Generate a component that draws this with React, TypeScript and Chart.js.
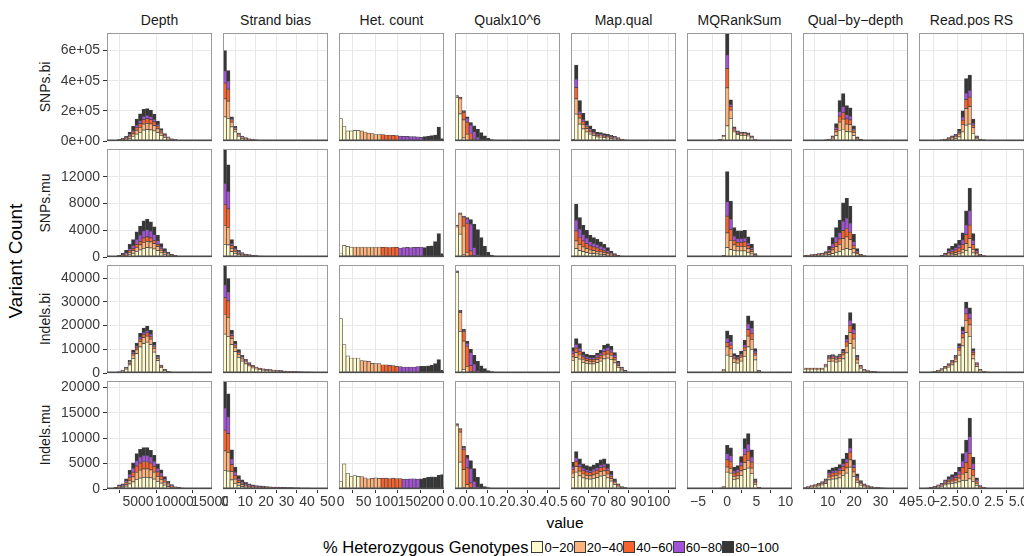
import { useEffect, useRef } from "react";
import { Chart, registerables } from "chart.js";

Chart.register(...registerables);

const FONT = '"Liberation Sans", Arial, Helvetica, sans-serif';

const COLUMNS = ["Depth", "Strand bias", "Het. count", "Qualx10^6", "Map.qual", "MQRankSum", "Qual\u2212by\u2212depth", "Read.pos RS"];
const ROWS = ["SNPs.bi", "SNPs.mu", "Indels.bi", "Indels.mu"];
const GENO_LABELS = ["0\u221220", "20\u221240", "40\u221260", "60\u221280", "80\u2212100"];
const GENO_COLORS = ["#FFFACD", "#FDB47C", "#F8622C", "#A352D6", "#363636"];
const LEGEND_TITLE = "% Heterozygous Genotypes";
const X_TITLE = "value";
const Y_TITLE = "Variant Count";

// histogram bins per column: 30 bins of width BIN_WIDTH centred at k*BIN_WIDTH, k from BIN_FIRST
const N_BINS = 30;
const BIN_WIDTH = [482, 1.7, 7.65, 0.01727, 1.739, 0.6, 1.325, 0.36];
const BIN_FIRST = [2, 0, 0, 0, 33, -11, 1, -14];

const X_TICKS = [
  [5000, 10000, 15000],
  [0, 10, 20, 30, 40, 50],
  [0, 50, 100, 150, 200],
  [0, 0.1, 0.2, 0.3, 0.4, 0.5],
  [60, 70, 80, 90, 100],
  [-5, 0, 5, 10],
  [10, 20, 30, 40],
  [-5, -2.5, 0, 2.5, 5],
];
const X_TICK_LABELS = [
  ["5000", "10000", "15000"],
  ["0", "10", "20", "30", "40", "50"],
  ["0", "50", "100", "150", "200"],
  ["0.0", "0.1", "0.2", "0.3", "0.4", "0.5"],
  ["60", "70", "80", "90", "100"],
  ["\u22125", "0", "5", "10"],
  ["10", "20", "30", "40"],
  ["\u22125.0", "\u22122.5", "0.0", "2.5", "5.0"],
];
const Y_TICKS = [
  [0, 200000, 400000, 600000],
  [0, 4000, 8000, 12000],
  [0, 10000, 20000, 30000, 40000],
  [0, 5000, 10000, 15000, 20000],
];
const Y_TICK_LABELS = [
  ["0e+00", "2e+05", "4e+05", "6e+05"],
  ["0", "4000", "8000", "12000"],
  ["0", "10000", "20000", "30000", "40000"],
  ["0", "5000", "10000", "15000", "20000"],
];
const Y_MAX = [717000, 16130, 45600, 21240];
// values below are written in thousands (row 1) or hundreds (rows 2-4)
const ROW_UNIT = [1000, 100, 100, 100];

const pad = (n: number, vals: number[]) => [...new Array(n).fill(0), ...vals];

// ---------- SNPs.bi (thousands) ----------
const SB_DEPTH = [
  [0.1, 0.3, 0.8, 4, 6, 10, 18, 30, 45, 58, 72, 76, 74, 68, 55, 37, 23, 13, 7, 4, 2, 1.2, 0.8, 0.6, 0.4, 0.4, 0.3, 0.2, 0.2, 0.1],
  [0.05, 0.1, 0.3, 1.5, 3, 5, 10, 17, 26, 33, 40, 41, 39, 34, 26, 16, 9, 5, 3, 1.7, 1, 0.6, 0.4, 0.3, 0.2, 0.2, 0.1, 0.1, 0.1, 0.1],
  [0.05, 0.1, 0.2, 1, 2, 4, 8, 13, 19, 24, 30, 31, 29, 25, 18, 10, 6, 3, 1.5, 1, 0.6, 0.3, 0.2, 0.2, 0.1, 0.1, 0.1, 0.1],
  [0, 0.1, 0.2, 1, 2, 3, 7, 11, 16, 20, 22, 22, 20, 17, 12, 7, 4, 2, 1, 0.7, 0.4, 0.3, 0.2, 0.1, 0.1, 0.1, 0.1],
  [0.1, 0.1, 0.5, 2.5, 4, 9, 17, 27, 39, 45, 47, 45, 43, 34, 22, 12, 7, 4, 2.5, 1.6, 1, 0.6, 0.4, 0.3, 0.2, 0.2, 0.1, 0.1, 0.1, 0.1],
];
const SB_STRAND = [
  [160, 150, 93, 60, 30, 18, 12, 8, 5, 3.5, 2.5, 2, 1.5, 1.2, 1, 0.8, 0.7, 0.6, 0.5, 0.5, 0.4, 0.4, 0.3, 0.3, 0.3, 0.2, 0.2, 0.2, 0.2, 0.2],
  [120, 115, 33, 15, 8, 5, 3, 2, 1.5, 1, 0.7, 0.6, 0.5, 0.4, 0.3, 0.2, 0.2, 0.2, 0.1, 0.1, 0.1, 0.1, 0.1, 0.1],
  [105, 80, 15, 8, 5, 3, 2, 1.5, 1, 0.7, 0.5, 0.4, 0.3, 0.3, 0.2, 0.1, 0.1, 0.1, 0.1, 0.1],
  [80, 50, 7, 5, 3, 2, 1, 1, 0.7, 0.5, 0.3, 0.3, 0.2, 0.2, 0.1, 0.1, 0.1, 0.1],
  [135, 72, 12, 10, 7, 5, 4, 2.5, 1.8, 1.3, 1, 0.7, 0.5, 0.4, 0.4, 0.4, 0.3, 0.3, 0.3, 0.2, 0.2, 0.2, 0.2, 0.1, 0.1, 0.1, 0.1, 0.1, 0.1, 0.1],
];
const SB_HET = [
  [149, 98, 67, 67, 71, 71],
  pad(6, [67, 60, 53, 49, 42, 42]),
  pad(12, [42, 40, 40, 38, 36]),
  pad(17, [33, 31, 31, 29, 29, 27, 24]),
  pad(24, [29, 31, 36, 40, 93, 16]),
];
const SB_QUAL = [
  [290, 180, 20, 5, 2],
  [8, 100, 120, 40, 8, 2],
  [0, 5, 50, 80, 40, 10, 3, 1],
  [0, 1, 4, 25, 55, 50, 20, 8, 3, 1],
  [4, 5, 8, 11, 18, 39, 55, 47, 31, 17, 9, 4, 2, 1, 0.5, 0.5, 0.3, 0.3, 0.2, 0.2],
];
const SB_MAPQ = [
  [4, 179, 112, 80, 60, 45, 35, 27, 25, 22, 20, 17, 14, 10, 6, 3, 1.8, 0.9, 0.5],
  [2, 101, 40, 30, 22, 16, 12, 9, 8, 7, 6, 5, 4, 3, 2, 1, 0.5, 0.3, 0.1],
  [1, 74, 27, 20, 14, 11, 8, 6, 6, 5, 5, 4, 3, 2, 1, 0.6, 0.4, 0.2, 0.1],
  [1, 56, 18, 14, 10, 8, 6, 5, 4, 4, 3, 3, 2, 1.5, 1, 0.4, 0.3, 0.1, 0.1],
  [2, 94, 72, 40, 28, 21, 17, 13, 13, 11, 11, 9, 8, 5.5, 3, 2, 1, 0.5, 0.2],
];
const SB_MQRS = [
  [0.2, 0.2, 0.2, 0.2, 0.3, 0.3, 0.5, 0.8, 1.5, 7, 30, 100, 150, 60, 42, 38, 38, 34, 21, 5, 1, 0.6, 0.3, 0.2, 0.2, 0.1, 0.1, 0.1, 0.1, 0.1],
  pad(8, [0.1, 0.5, 3, 253, 55, 12, 9, 8, 8, 7, 4, 1, 0.3, 0.1]),
  pad(8, [0.1, 0.5, 1, 128, 25, 7, 5, 4, 4, 4, 3, 1, 0.2, 0.1]),
  pad(8, [0.1, 0.3, 1, 90, 13, 5, 3, 3, 3, 2, 1, 0.5, 0.1, 0.1]),
  pad(7, [0.1, 0.2, 0.7, 3, 146, 30, 10, 8, 7, 7, 7, 5, 1.5, 0.4, 0.1]),
];
const SB_QBD = [
  [1.8, 1.8, 1.8, 1.8, 2.4, 3, 4, 6, 11, 35, 70, 78, 62, 60, 35, 10, 4, 1, 0.6, 0.4, 0.3, 0.3, 0.2, 0.2, 0.2, 0.1, 0.1, 0.1, 0.1, 0.1],
  [0.4, 0.4, 0.4, 0.4, 0.5, 0.6, 1, 2, 7, 25, 55, 67, 50, 48, 22, 6, 2, 0.6, 0.3, 0.1],
  [0.2, 0.2, 0.2, 0.2, 0.3, 0.4, 0.6, 1, 5, 16, 40, 45, 35, 32, 13, 3, 1.5, 0.4, 0.2, 0.1],
  [0.1, 0.1, 0.1, 0.1, 0.2, 0.3, 0.4, 1, 3, 12, 30, 38, 28, 25, 9, 2, 1, 0.3, 0.1, 0.1],
  [0.5, 0.5, 0.5, 0.5, 0.6, 0.7, 1, 2, 8, 28, 74, 86, 60, 55, 22, 6, 2.5, 0.7, 0.3, 0.1, 0.2, 0.2, 0.1, 0.1, 0.1, 0.1, 0.1, 0.1, 0.1, 0.1],
];
const SB_READ = [
  [0.5, 0.5, 0.5, 0.7, 0.9, 1.3, 3, 6, 9, 13, 17, 28, 60, 105, 112, 50, 14, 6, 3, 1.3, 0.7, 0.5, 0.3, 0.2, 0.2, 0.2, 0.2, 0.2, 0.2, 0.2],
  [0.2, 0.2, 0.2, 0.3, 0.4, 0.6, 1.5, 3, 5, 8, 10, 18, 50, 110, 116, 38, 8, 3, 1.5, 0.6, 0.3, 0.2, 0.1, 0.1, 0.1, 0.1, 0.1, 0.1, 0.1, 0.1],
  [0.1, 0.1, 0.1, 0.2, 0.2, 0.3, 0.8, 1.5, 3, 4, 6, 10, 28, 60, 63, 18, 4, 1.5, 0.8, 0.3, 0.2, 0.1, 0.1],
  [0.1, 0.1, 0.1, 0.1, 0.2, 0.3, 0.6, 1, 2, 3, 4, 7, 20, 42, 45, 12, 3, 1, 0.6, 0.3, 0.1, 0.1, 0.1],
  [0.1, 0.1, 0.1, 0.2, 0.3, 0.5, 1.1, 1.5, 3, 6, 8, 15, 42, 97, 101, 28, 5, 1.5, 1.1, 0.5, 0.2, 0.1, 0.1, 0.1, 0.1, 0.1, 0.1, 0.1, 0.1, 0.1],
];

// ---------- SNPs.mu (hundreds) ----------
const SM_DEPTH = [
  [0.03, 0.1, 0.2, 0.5, 1.2, 2, 4, 5.5, 8.5, 10.5, 13, 14, 13.5, 12, 9.5, 6, 4, 2.5, 1.3, 0.8, 0.5, 0.3, 0.2, 0.2, 0.1, 0.1, 0.1, 0.1, 0.05, 0.05],
  [0, 0.03, 0.1, 0.3, 0.8, 1.4, 2.8, 4, 6, 7.5, 9, 9.5, 9, 8, 6, 4, 2.5, 1.5, 0.8, 0.5, 0.3, 0.1, 0.1, 0.05],
  [0, 0.02, 0.05, 0.25, 0.6, 1.1, 2.2, 3, 4.5, 5.5, 6.5, 6.5, 6, 5, 3.5, 2, 1.2, 0.7, 0.4, 0.25, 0.15, 0.1, 0.05],
  [0, 0.03, 0.1, 0.4, 1, 1.8, 3.5, 5, 7.5, 9, 10.5, 11, 10, 8.5, 5.5, 3, 1.8, 1, 0.5, 0.3, 0.2, 0.1, 0.05],
  [0.05, 0.15, 0.4, 1.05, 2.4, 3.7, 6.5, 8.5, 11, 13.5, 15, 15.5, 14, 11.5, 8, 5, 3, 1.8, 1, 0.65, 0.35, 0.4, 0.3, 0.2, 0.2, 0.1, 0.1, 0.1, 0.05, 0.05],
];
const SM_STRAND = [
  [19, 18, 8, 5.5, 3.5, 2.3, 1.6, 1.2, 0.9, 0.7, 0.5, 0.45, 0.4, 0.35, 0.3, 0.28, 0.28, 0.25, 0.25, 0.2, 0.2, 0.18, 0.18, 0.14, 0.14, 0.1, 0.1, 0.1, 0.07, 0.07],
  [28, 26, 5, 3, 1.8, 1.2, 0.8, 0.6, 0.45, 0.35, 0.3, 0.25, 0.2, 0.2, 0.18, 0.15, 0.15, 0.13, 0.13, 0.12, 0.12, 0.1, 0.1, 0.08, 0.08, 0.06, 0.06, 0.06, 0.04, 0.04],
  [31.5, 28, 4, 2.3, 1.4, 0.9, 0.6, 0.5, 0.35, 0.3, 0.2, 0.2, 0.15, 0.15, 0.13, 0.12, 0.12, 0.1, 0.1, 0.09, 0.09, 0.07, 0.07, 0.06, 0.06, 0.05, 0.05, 0.05, 0.03, 0.03],
  [31.5, 26, 3.5, 2, 1.3, 0.8, 0.55, 0.4, 0.3, 0.25, 0.2, 0.15, 0.15, 0.1, 0.1, 0.1, 0.1, 0.08, 0.08, 0.07, 0.07, 0.06, 0.06, 0.05, 0.05, 0.04, 0.04, 0.04, 0.03, 0.03],
  [51, 39.5, 5.5, 3.2, 2, 1.3, 0.95, 0.8, 0.5, 0.4, 0.3, 0.25, 0.2, 0.2, 0.19, 0.15, 0.15, 0.14, 0.14, 0.12, 0.12, 0.09, 0.09, 0.07, 0.07, 0.05, 0.05, 0.05, 0.03, 0.03],
];
const SM_HET = [
  [6, 17.5, 16, 14],
  pad(4, [15, 15, 14, 15, 14, 15, 14, 15]),
  pad(12, [14.5, 15, 14, 15, 14.5]),
  pad(17, [13.5, 14, 14.5, 14, 14.5, 14.5, 15]),
  pad(24, [14, 16, 16.5, 23, 35, 5]),
];
const SM_QUAL = [
  [45, 34, 3, 1, 0.5],
  [1.5, 30, 43, 6, 1.5, 0.5],
  [0, 1, 13, 43, 7, 1.5, 0.5],
  [0, 0, 1, 7, 40, 12, 2.5, 1, 0.5],
  [1, 1, 1, 2, 7, 35, 38, 28, 15.5, 7, 3, 1.5, 0.8, 0.5, 0.3, 0.2, 0.1],
];
const SM_MAPQ = [
  [0.2, 12.5, 9.5, 8, 6.5, 5.5, 5, 4.5, 4, 3.5, 2.5, 1.5, 0.8, 0.4, 0.2, 0.1, 0.05],
  [0.1, 11.5, 9, 7, 6, 5, 4.5, 4, 3.5, 3, 2, 1.3, 0.7, 0.3, 0.2, 0.1, 0.05],
  [0.2, 15, 11, 9, 7.5, 6, 5.5, 5, 4, 3.5, 2.5, 1.7, 0.9, 0.4, 0.2, 0.05],
  [0.2, 16, 12, 9.5, 8, 6.5, 5.5, 5, 4.5, 3.5, 2.5, 1.5, 0.8, 0.4, 0.2, 0.05],
  [0.3, 24, 17.5, 14, 12, 9.5, 8.5, 8, 6.5, 5.5, 4.5, 3, 1.8, 1, 0.7, 0.5, 0.3, 0.2, 0.1],
];
const SM_MQRS = [
  [0.1, 0.1, 0.1, 0.1, 0.1, 0.2, 0.2, 0.2, 0.3, 0.5, 1, 14, 11, 10, 9, 9, 9, 7, 4.5, 1.2, 0.4, 0.2, 0.1, 0.1],
  pad(9, [0.1, 0.4, 22, 14, 8, 7, 7, 7, 5.5, 3.5, 0.9, 0.3, 0.1]),
  pad(9, [0.1, 0.3, 25, 16, 7, 6, 6, 6.5, 4.5, 3, 0.8, 0.2]),
  pad(9, [0.1, 0.2, 21.5, 15, 6, 5.5, 5.5, 5.5, 4, 2.5, 0.6, 0.2]),
  pad(8, [0.2, 0.2, 0.6, 45, 27.5, 13, 11.5, 11.5, 12, 9, 5.5, 1.5, 0.4, 0.2, 0.1]),
];
const SM_QBD = [
  [1.2, 1.4, 1.6, 1.8, 2.2, 2.5, 3, 3.5, 5, 7, 8.5, 11.5, 12.5, 11, 6, 2.5, 0.8, 0.4, 0.2, 0.1, 0.1, 0.1, 0.05, 0.05, 0.05],
  [0.5, 0.6, 0.7, 0.8, 1, 1.2, 1.6, 3, 5.5, 8.5, 10.5, 16, 17.5, 15, 6.5, 2.5, 0.8, 0.4, 0.2, 0.1, 0.1],
  [0.2, 0.3, 0.3, 0.4, 0.5, 0.6, 0.9, 2, 4, 6.5, 8, 12, 12.5, 11, 5, 1.8, 0.6, 0.3, 0.1, 0.1],
  [0.2, 0.2, 0.3, 0.3, 0.4, 0.5, 0.8, 2.5, 5, 7.5, 9.5, 14, 15, 13, 5.5, 1.7, 0.5, 0.2, 0.1, 0.1],
  [0.4, 0.5, 0.6, 0.7, 0.9, 1.2, 1.7, 5, 9.5, 14.5, 18.5, 27.5, 30, 26, 11, 4, 1.3, 0.7, 0.4, 0.3, 0.2, 0.2, 0.15, 0.1, 0.1, 0.1, 0.1, 0.05, 0.05, 0.05],
];
const SM_READ = [
  [0.1, 0.1, 0.15, 0.2, 0.25, 0.3, 0.5, 1.2, 2.5, 3, 3.5, 4.5, 6, 10, 14, 6, 2.5, 0.8, 0.4, 0.2, 0.1, 0.1, 0.1, 0.05, 0.05],
  [0.05, 0.1, 0.1, 0.1, 0.15, 0.2, 0.4, 1, 2, 2.5, 3, 4, 5.5, 10, 13.5, 5.5, 2, 0.6, 0.3, 0.15, 0.1, 0.1, 0.05],
  [0.05, 0.05, 0.1, 0.1, 0.15, 0.15, 0.4, 1.1, 2.3, 3, 4, 5, 7, 13.5, 20, 7, 2.3, 0.7, 0.35, 0.15, 0.1, 0.05],
  [0.05, 0.05, 0.05, 0.1, 0.1, 0.15, 0.4, 1, 2.2, 2.8, 3.5, 4.5, 7, 14.5, 21.5, 6.5, 2.2, 0.7, 0.35, 0.2, 0.1, 0.05],
  [0.05, 0.1, 0.1, 0.1, 0.15, 0.2, 0.8, 1.7, 3.5, 4.7, 6, 7, 10.5, 21, 33.5, 10, 3.5, 1.2, 0.6, 0.3, 0.2, 0.15, 0.1, 0.1, 0.05, 0.05],
];

// ---------- Indels.bi (hundreds) ----------
const IB_DEPTH = [
  [0.3, 0.6, 1.3, 3, 7.5, 16, 34, 62, 82, 110, 124, 130, 120, 88, 52, 23, 10, 4.5, 2.5, 1.6, 1, 0.7, 0.5, 0.4, 0.3, 0.2, 0.15, 0.15, 0.1, 0.1],
  [0.05, 0.1, 0.3, 0.6, 1.6, 3.3, 7, 13, 16, 22, 25, 26, 23, 16, 9, 4, 1.8, 0.8, 0.5, 0.3, 0.2, 0.1, 0.1, 0.1],
  [0.05, 0.1, 0.1, 0.3, 0.8, 1.7, 3.5, 6.5, 8.5, 11, 13, 13, 12, 8, 4.5, 2, 0.9, 0.4, 0.25, 0.15, 0.1, 0.05, 0.05],
  [0, 0.05, 0.1, 0.3, 0.6, 1.3, 3, 5, 6.5, 9, 10, 10, 9, 6, 3.5, 1.5, 0.7, 0.3, 0.2, 0.1, 0.05, 0.05],
  [0.1, 0.15, 0.2, 0.8, 1.5, 2.7, 5.5, 10.5, 13, 16, 18, 19, 17, 12, 6, 2.5, 1.6, 1, 0.55, 0.35, 0.15, 0.1, 0.1, 0.1, 0.1, 0.1, 0.05, 0.05],
];
const IB_STRAND = [
  [164, 155, 120, 90, 66, 50, 39, 30, 22, 17, 14, 12, 10.4, 9.4, 8.4, 7.4, 6.7, 5.7, 4.7, 4.7, 3.7, 3.4, 3, 2.7, 2.7, 2.4, 2, 2, 1.7, 1.7],
  [83, 80, 25, 18, 13, 10, 7.5, 5.5, 4, 3.2, 2.7, 2.3, 2, 1.8, 1.6, 1.4, 1.3, 1.1, 0.9, 0.9, 0.7, 0.6, 0.6, 0.5, 0.5, 0.45, 0.4, 0.4, 0.3, 0.3],
  [71, 70, 13, 10, 7, 5.5, 4, 3, 2.3, 1.7, 1.5, 1.3, 1.1, 1, 0.9, 0.8, 0.7, 0.6, 0.5, 0.5, 0.4, 0.35, 0.3, 0.3, 0.3, 0.25, 0.2, 0.2, 0.2, 0.2],
  [54, 35, 8, 6, 4.5, 3.5, 2.7, 2, 1.5, 1.2, 1, 0.9, 0.8, 0.7, 0.6, 0.6, 0.5, 0.4, 0.35, 0.35, 0.3, 0.25, 0.2, 0.2, 0.2, 0.15, 0.15, 0.15, 0.1, 0.1],
  [80, 59, 14, 10, 8.5, 6, 4.8, 3.5, 2.7, 1.9, 1.8, 1.5, 1.2, 1.1, 1, 0.8, 0.8, 0.7, 0.55, 0.55, 0.4, 0.4, 0.4, 0.3, 0.3, 0.25, 0.25, 0.25, 0.2, 0.2],
];
const IB_HET = [
  [230, 120, 72, 63.5, 63.5, 63.5],
  pad(6, [52, 51, 49.5, 41, 39.5, 39.5]),
  pad(12, [35, 35, 32.5, 31, 28]),
  pad(17, [27, 25.5, 25.5, 25.5, 25.5, 27]),
  pad(23, [28, 28, 30, 32.5, 39.5, 56.5, 11]),
];
const IB_QUAL = [
  [425, 176, 15, 3, 1],
  [3, 79, 120, 25, 5, 1.5, 0.5],
  [0, 5, 40, 85, 25, 6, 1.5, 0.5],
  [0, 1, 3, 12, 55, 30, 8, 2.5, 1],
  [3.5, 4, 7, 9, 14, 37.5, 39.5, 27, 17.5, 10, 5.5, 4, 3, 2, 1.5, 1.5, 1, 1, 1, 0.8, 0.6, 0.5, 0.4, 0.3, 0.3, 0.2, 0.2, 0.2, 0.1, 0.1],
];
const IB_MAPQ = [
  [53, 65, 59, 45, 41, 39, 39, 44, 50, 60, 63, 58, 43, 24, 12, 5, 1.5, 0.8, 0.5, 0.4, 0.3, 0.2, 0.2, 0.1],
  [15, 21, 17, 12, 11, 10, 10, 12, 13, 16, 17, 16, 12, 7, 3.5, 1.5, 0.5, 0.3, 0.2, 0.1, 0.1],
  [13, 19, 15, 11, 9, 9, 9, 10, 11.5, 14, 15, 14, 11, 6.5, 3.5, 1.5, 0.5, 0.3, 0.2, 0.1, 0.1],
  [11, 16, 13, 9, 8, 7, 7, 8, 9.5, 12, 12, 11, 9, 5, 2.5, 1, 0.5, 0.2, 0.1, 0.1],
  [15, 24, 20, 12, 10, 10, 10, 10.5, 12, 15, 16, 15, 11, 7, 4, 2, 1, 0.4, 0.3, 0.2, 0.2, 0.2, 0.1, 0.1, 0.1],
];
const IB_MQRS = [
  [0.2, 0.2, 0.2, 0.2, 0.2, 0.3, 0.3, 0.3, 0.3, 0.3, 9, 75, 70, 45, 42, 50, 70, 110, 100, 55, 6, 2, 0.6, 0.3, 0.2, 0.2, 0.1, 0.1, 0.1, 0.1],
  pad(9, [0.05, 2, 35, 32, 15, 13, 17, 26, 46, 42, 19, 2, 0.4, 0.1, 0.1]),
  pad(9, [0.05, 1, 18.5, 16, 7, 6.5, 8, 13, 27, 25, 10, 1, 0.2, 0.1]),
  pad(9, [0.05, 0.7, 17, 14, 5, 4.5, 6, 10, 23, 21, 8, 0.8, 0.1, 0.1]),
  pad(9, [0.05, 1.3, 32.5, 27, 10, 9, 12, 19, 35, 32, 11, 1.2, 0.3, 0.1, 0.1, 0.1]),
];
const IB_QBD = [
  [16, 16, 16, 16, 16, 16, 26, 49, 50, 46, 50, 60, 85, 124, 105, 42, 19, 9, 6, 4, 3.3, 2.4, 1.8, 1.5, 1.2, 0.9, 0.9, 0.6, 0.6, 0.5],
  [2.5, 2.5, 2.5, 2.5, 2.5, 2.5, 5.5, 11, 12, 11, 12, 16, 28, 46.5, 38, 13, 5.5, 2.5, 1.5, 1, 0.8, 0.6, 0.5, 0.4, 0.3, 0.2, 0.2, 0.1, 0.1, 0.1],
  [1, 1, 1, 1, 1, 1, 3, 6, 6.5, 6, 7, 10, 18, 31, 24, 8, 3, 1.5, 1, 0.7, 0.5, 0.4, 0.3, 0.2, 0.2, 0.1, 0.1, 0.1, 0.1, 0.1],
  [0.5, 0.5, 0.5, 0.5, 0.5, 0.5, 1.5, 4, 4.5, 4, 5, 6, 12, 21, 17, 5, 2, 1, 0.5, 0.5, 0.4, 0.3, 0.2, 0.2, 0.1, 0.1, 0.1, 0.1, 0.1, 0],
  [1, 1, 1, 1, 1, 1, 2, 5, 5, 5, 6, 8, 16, 32.5, 25, 7, 3, 1.5, 1, 0.8, 0.5, 0.3, 0.2, 0.2, 0.2, 0.2, 0.2, 0.1, 0.1, 0.1],
];
const IB_READ = [
  [0.3, 0.5, 1, 2.5, 4.5, 7, 12, 18, 25, 34, 47, 75, 115, 170, 155, 60, 27, 9.5, 4.3, 2.5, 1.3, 1, 0.6, 0.4, 0.3, 0.2, 0.2, 0.1, 0.1, 0.1],
  [0.1, 0.1, 0.2, 0.6, 1.1, 1.8, 3, 4.5, 6.5, 8.5, 12, 20, 33, 52, 48, 17, 7, 2.5, 1.1, 0.6, 0.3, 0.2, 0.2, 0.1],
  [0.05, 0.1, 0.1, 0.3, 0.6, 0.9, 1.5, 2.2, 3.2, 4.5, 6, 11, 17, 28, 26, 10, 4, 1.3, 0.6, 0.4, 0.2, 0.1, 0.1],
  [0.05, 0.05, 0.1, 0.3, 0.4, 0.6, 1, 1.5, 2.2, 3, 4.5, 8, 14, 24, 22, 7, 2.5, 1, 0.4, 0.2, 0.1, 0.1],
  [0.05, 0.05, 0.1, 0.3, 0.4, 0.7, 1, 1.8, 2.6, 3.5, 5.5, 10, 16, 25.5, 24, 9, 3.5, 1.2, 0.6, 0.3, 0.1, 0.1, 0.1, 0.1, 0.1],
];

// ---------- Indels.mu (hundreds) ----------
const IM_DEPTH = [
  [0.2, 0.4, 0.9, 2.2, 2.7, 5.5, 10, 14, 19, 21.5, 23, 23, 22, 19.5, 15, 11.5, 7.8, 4.8, 2.8, 1.5, 1.1, 0.7, 0.5, 0.4, 0.3, 0.3, 0.2, 0.2, 0.1, 0.1],
  [0.05, 0.2, 0.6, 1.5, 1.9, 3.8, 7, 10, 13.5, 15.5, 16.5, 16.5, 15.5, 13.5, 10, 7.5, 5, 3, 1.7, 0.9, 0.7, 0.4, 0.3, 0.3, 0.2, 0.1, 0.1, 0.1, 0.1],
  [0.05, 0.2, 0.6, 1.3, 1.7, 3.5, 6.5, 9, 12.5, 14, 14.5, 14.5, 13.5, 11.5, 8.5, 6.5, 4, 2.5, 1.4, 0.7, 0.5, 0.3, 0.2, 0.2, 0.1, 0.1, 0.1, 0.1],
  [0, 0.2, 0.5, 1.1, 1.5, 3, 5.5, 8, 10.5, 11.5, 12, 12, 11, 9.5, 7, 5, 3.2, 2, 1.1, 0.6, 0.4, 0.3, 0.2, 0.1, 0.1, 0.1, 0.1],
  [0.1, 0.3, 0.7, 1.9, 2.2, 4.2, 7.5, 10.5, 14, 15.5, 15.5, 15.5, 14, 12, 9, 7, 4.5, 2.7, 1.5, 0.8, 0.6, 0.3, 0.3, 0.2, 0.2, 0.2, 0.1, 0.1, 0.1, 0.1],
];
const IM_STRAND = [
  [36.5, 35, 18, 11, 7, 4.8, 3.5, 2.7, 2.2, 1.8, 1.6, 1.5, 1.4, 1.2, 1.1, 1.1, 1, 1, 0.8, 0.8, 0.7, 0.7, 0.55, 0.55, 0.55, 0.4, 0.4, 0.4, 0.3, 0.3],
  [38.5, 37, 16, 8.5, 5.5, 3.7, 2.7, 2, 1.6, 1.3, 1.2, 1.1, 1, 0.9, 0.8, 0.8, 0.7, 0.7, 0.6, 0.6, 0.5, 0.5, 0.4, 0.4, 0.4, 0.3, 0.3, 0.3, 0.2, 0.2],
  [41, 37, 14, 7.5, 4.5, 3, 2.2, 1.7, 1.4, 1.1, 1, 0.9, 0.8, 0.8, 0.7, 0.7, 0.6, 0.6, 0.5, 0.5, 0.4, 0.4, 0.35, 0.35, 0.35, 0.25, 0.25, 0.25, 0.15, 0.15],
  [43, 33, 11, 6, 3.5, 2.5, 1.8, 1.4, 1.1, 0.9, 0.8, 0.8, 0.7, 0.6, 0.5, 0.5, 0.5, 0.5, 0.4, 0.4, 0.3, 0.3, 0.3, 0.3, 0.3, 0.2, 0.2, 0.2, 0.15, 0.15],
  [52, 45, 18, 10, 6, 4, 2.8, 2.2, 1.7, 1.4, 1.4, 1.2, 1.1, 1, 0.9, 0.9, 0.7, 0.7, 0.7, 0.7, 0.6, 0.6, 0.4, 0.4, 0.4, 0.35, 0.35, 0.35, 0.2, 0.2],
];
const IM_HET = [
  [14.5, 49.5, 31, 24.5, 26.5, 25],
  pad(6, [24.5, 22, 20, 21, 22, 21]),
  pad(12, [21.5, 21.5, 20.5, 21.5, 20.5, 20.5]),
  pad(18, [19.5, 19.5, 20, 20, 19.5]),
  pad(23, [20, 21.5, 23, 24, 23.5, 27, 28.5]),
];
const IM_QUAL = [
  [124, 53, 3, 0.5],
  [3, 59, 35, 8, 2, 0.5],
  [0, 5, 40, 33, 10, 2.5, 0.5],
  [0, 1, 3, 19, 28, 12, 3, 0.5],
  [1.7, 1, 3, 5.5, 16, 25, 19.5, 9.5, 4.6, 2.6, 2, 1.3, 1, 0.8, 0.6, 0.5, 0.4, 0.3, 0.3, 0.2, 0.2, 0.1, 0.1, 0.1],
];
const IM_MAPQ = [
  [23, 33, 26, 22, 20, 19.5, 21, 22.5, 25.5, 26.5, 22, 15.5, 8.8, 4.4, 2, 1.1, 0.6, 0.4, 0.3, 0.2, 0.1],
  [8, 11, 9, 7.5, 7, 6.5, 7, 7.5, 8.5, 9, 7.5, 5, 3, 1.5, 0.7, 0.4, 0.2, 0.1, 0.1],
  [7.5, 10.5, 8.5, 7, 6.5, 6, 6.5, 7, 8, 8, 7, 5, 2.8, 1.4, 0.6, 0.35, 0.2, 0.1, 0.1],
  [5, 6.5, 5.5, 4.5, 4.5, 4, 4.5, 5, 5.5, 5.5, 4.5, 3.3, 1.9, 0.9, 0.4, 0.25, 0.1, 0.1],
  [9.5, 12.5, 10.5, 8.5, 8, 8, 8.5, 9, 10, 10.5, 8.5, 6.2, 3.5, 1.8, 0.9, 0.5, 0.4, 0.3, 0.2, 0.2, 0.1, 0.1],
];
const IM_MQRS = [
  [0.2, 0.2, 0.2, 0.2, 0.2, 0.3, 0.3, 0.4, 0.5, 1, 2.5, 33, 31, 19, 20, 27, 38, 41, 30, 9, 1.5, 0.7, 0.3, 0.2, 0.1, 0.1],
  pad(8, [0.1, 0.2, 0.6, 10, 9.5, 5.5, 6, 8.5, 14, 15, 11, 3, 0.5, 0.2, 0.1]),
  pad(8, [0.1, 0.2, 0.5, 14.5, 13.5, 6.5, 7, 10, 16, 18, 12, 3, 0.5, 0.2]),
  pad(8, [0.1, 0.1, 0.4, 12, 11.5, 4.5, 5, 7, 12, 14, 9.5, 2, 0.3, 0.1]),
  pad(8, [0.1, 0.5, 0.6, 16.5, 15.5, 7.5, 8, 11.5, 19, 21, 14.5, 3, 0.5, 0.3, 0.1, 0.1]),
];
const IM_QBD = [
  [2, 2.8, 4, 5, 6.2, 8, 10.5, 18, 19.5, 20, 22, 27, 31, 43, 25, 13, 7.5, 4.5, 3, 2.1, 1.8, 1.4, 1.1, 0.9, 0.7, 0.7, 0.5, 0.5, 0.4, 0.3],
  [0.45, 0.6, 0.9, 1.2, 1.5, 2, 3, 5.5, 6, 6.5, 7.5, 9, 10.5, 14.5, 8.5, 4.5, 2.5, 1.5, 1, 0.7, 0.6, 0.4, 0.3, 0.3, 0.2, 0.2, 0.1, 0.1, 0.1, 0.1],
  [0.35, 0.5, 0.7, 1, 1.3, 1.7, 2.5, 5, 6, 6, 7, 8.5, 10.5, 15, 8.5, 4.5, 2.5, 1.5, 1, 0.7, 0.6, 0.4, 0.3, 0.3, 0.2, 0.2, 0.1, 0.1, 0.1, 0.1],
  [0.2, 0.3, 0.4, 0.6, 0.8, 1.1, 1.5, 3.5, 4, 4, 4.5, 5.5, 6.5, 8.5, 5.5, 3, 1.5, 1, 0.6, 0.4, 0.4, 0.3, 0.2, 0.2, 0.1, 0.1, 0.1, 0.1, 0.1, 0],
  [0.3, 0.4, 0.6, 0.8, 1.2, 1.7, 2.5, 5.5, 6, 6.5, 7, 9.5, 12, 18, 10, 5, 2.5, 1.5, 1, 0.7, 0.6, 0.5, 0.4, 0.3, 0.3, 0.2, 0.2, 0.2, 0.1, 0.1],
];
const IM_READ = [
  [0.4, 0.6, 1, 1.6, 2.6, 3.8, 5, 8, 10, 11, 12, 14, 17, 17, 20, 15, 7, 2.5, 1.3, 0.8, 0.5, 0.4, 0.3, 0.3, 0.2, 0.2, 0.1, 0.1, 0.1, 0.1],
  [0.1, 0.2, 0.3, 0.5, 0.8, 1.3, 1.8, 3, 4, 4.5, 5.5, 7.5, 12, 15, 20, 11, 4, 1.1, 0.55, 0.3, 0.2, 0.2, 0.1, 0.1, 0.1],
  [0.1, 0.2, 0.2, 0.45, 0.7, 1, 1.5, 2.5, 3.5, 4, 5, 7, 13, 20, 30, 12, 3.8, 1, 0.5, 0.3, 0.2, 0.1, 0.1, 0.1],
  [0.1, 0.1, 0.2, 0.3, 0.5, 0.8, 1.2, 2, 3, 4, 4.5, 6.5, 13, 21, 33, 12, 3.3, 0.9, 0.45, 0.3, 0.2, 0.1, 0.1],
  [0.1, 0.2, 0.3, 0.45, 0.7, 1.1, 1.5, 2.5, 4, 5, 6, 8, 14.5, 23, 36.5, 13, 3.9, 1.1, 0.5, 0.3, 0.2, 0.2, 0.1, 0.1, 0.1, 0.1],
];

const PANELS = [
  [SB_DEPTH, SB_STRAND, SB_HET, SB_QUAL, SB_MAPQ, SB_MQRS, SB_QBD, SB_READ],
  [SM_DEPTH, SM_STRAND, SM_HET, SM_QUAL, SM_MAPQ, SM_MQRS, SM_QBD, SM_READ],
  [IB_DEPTH, IB_STRAND, IB_HET, IB_QUAL, IB_MAPQ, IB_MQRS, IB_QBD, IB_READ],
  [IM_DEPTH, IM_STRAND, IM_HET, IM_QUAL, IM_MAPQ, IM_MQRS, IM_QBD, IM_READ],
];

// ---------- layout & style ----------
const PANEL_X0 = 107;
const PANEL_DX = 116;
const PANEL_W = 105;
const PANEL_Y0 = 33;
const PANEL_DY = 116;
const PANEL_H = 108;
const Y_AXIS_W = 50;
const X_AXIS_H = 20;
const TICK_LEN = 4;
const ROW_LABEL_X = 45;
const GRID_COLOR = "#e8e8e8";
const TICK_COLOR = "#333333";
const TICK_TEXT = "#3a3a3a";
const FRAME_COLOR = "#9a9a9a";
const BASE_COLOR = "#4a4a4a";
const BAR_EDGE = "#444444";

const panelFrame = {
  id: "panelFrame",
  afterDatasetsDraw(chart: any) {
    const { ctx, chartArea: a } = chart;
    ctx.save();
    ctx.strokeStyle = FRAME_COLOR;
    ctx.lineWidth = 1;
    ctx.strokeRect(a.left + 0.5, a.top + 0.5, a.right - a.left - 1, a.bottom - a.top - 1);
    ctx.strokeStyle = BASE_COLOR;
    ctx.lineWidth = 1.5;
    ctx.beginPath();
    ctx.moveTo(a.left, a.bottom - 0.75);
    ctx.lineTo(a.right, a.bottom - 0.75);
    ctx.stroke();
    ctx.restore();
  },
};

function Panel({ r, c }: { r: number; c: number }) {
  const ref = useRef<HTMLCanvasElement | null>(null);
  const isLeft = c === 0;
  const isBottom = r === ROWS.length - 1;
  const padL = isLeft ? 60 : isBottom ? 16 : 2;
  const padR = isBottom ? 16 : 2;
  const padT = isLeft ? 10 : 2;
  const padB = isBottom ? 28 : isLeft ? 10 : 2;
  const cw = PANEL_W + padL + padR;
  const ch = PANEL_H + padT + padB;
  const left = PANEL_X0 + c * PANEL_DX - padL;
  const top = PANEL_Y0 + r * PANEL_DY - padT;

  useEffect(() => {
    const canvas = ref.current;
    if (!canvas) return;
    const w = BIN_WIDTH[c];
    const k0 = BIN_FIRST[c];
    const series = PANELS[r][c];
    const datasets = GENO_LABELS.map((label, s) => ({
      label,
      data: Array.from({ length: N_BINS }, (_, i) => ({
        x: (k0 + i) * w,
        y: (series[s][i] ?? 0) * ROW_UNIT[r],
      })),
      backgroundColor: GENO_COLORS[s],
      borderColor: BAR_EDGE,
      borderWidth: 0.7,
      borderSkipped: false,
      barPercentage: 1,
      categoryPercentage: 1,
    }));
    const tickFont = { family: FONT, size: 14 };
    const chart = new Chart(canvas, {
      type: "bar",
      data: { datasets } as any,
      options: {
        responsive: false,
        animation: false,
        events: [],
        layout: {
          padding: {
            left: padL - (isLeft ? Y_AXIS_W : 0),
            right: padR,
            top: padT,
            bottom: padB - (isBottom ? X_AXIS_H : 0),
          },
        },
        plugins: { legend: { display: false }, tooltip: { enabled: false }, title: { display: false } },
        scales: {
          x: {
            type: "linear",
            min: (k0 - 0.5) * w,
            max: (k0 + N_BINS - 0.5) * w,
            stacked: true,
            offset: false,
            bounds: "data",
            border: { display: false },
            grid: { color: GRID_COLOR, lineWidth: 1, drawTicks: isBottom, tickLength: TICK_LEN, tickColor: TICK_COLOR, tickWidth: 1 },
            ticks: {
              display: isBottom,
              autoSkip: false,
              maxRotation: 0,
              minRotation: 0,
              padding: 1,
              color: TICK_TEXT,
              font: tickFont,
              callback: (_v: any, i: number) => X_TICK_LABELS[c][i],
            },
            afterBuildTicks: (s: any) => {
              s.ticks = X_TICKS[c].map((value) => ({ value }));
            },
            afterFit: (s: any) => {
              s.height = isBottom ? X_AXIS_H : 0;
              s.paddingLeft = 0;
              s.paddingRight = 0;
              s.paddingTop = 0;
              s.paddingBottom = 0;
            },
          },
          y: {
            type: "linear",
            min: 0,
            max: Y_MAX[r],
            stacked: true,
            bounds: "data",
            border: { display: false },
            grid: { color: GRID_COLOR, lineWidth: 1, drawTicks: isLeft, tickLength: TICK_LEN, tickColor: TICK_COLOR, tickWidth: 1 },
            ticks: {
              display: isLeft,
              autoSkip: false,
              padding: 3,
              color: TICK_TEXT,
              font: tickFont,
              callback: (_v: any, i: number) => Y_TICK_LABELS[r][i],
            },
            afterBuildTicks: (s: any) => {
              s.ticks = Y_TICKS[r].map((value) => ({ value }));
            },
            afterFit: (s: any) => {
              s.width = isLeft ? Y_AXIS_W : 0;
              s.paddingLeft = 0;
              s.paddingRight = 0;
              s.paddingTop = 0;
              s.paddingBottom = 0;
            },
          },
        },
      } as any,
      plugins: [panelFrame],
    });
    return () => chart.destroy();
  }, [r, c]);

  return (
    <canvas
      ref={ref}
      width={cw}
      height={ch}
      style={{ position: "absolute", left, top, width: cw, height: ch }}
    />
  );
}

export default function App() {
  const textBase = { position: "absolute" as const, fontFamily: FONT, whiteSpace: "nowrap" as const };
  return (
    <div
      style={{
        position: "fixed",
        left: 0,
        top: 0,
        width: 1024,
        height: 556,
        background: "#ffffff",
        overflow: "hidden",
      }}
    >
      {COLUMNS.map((name, c) => (
        <div
          key={name}
          style={{
            ...textBase,
            left: PANEL_X0 + c * PANEL_DX,
            top: 11,
            width: PANEL_W,
            textAlign: "center",
            fontSize: 14,
            lineHeight: "18px",
            color: "#1a1a1a",
          }}
        >
          {name}
        </div>
      ))}
      {ROWS.map((name, r) => (
        <div
          key={name}
          style={{
            ...textBase,
            left: ROW_LABEL_X - 54,
            top: PANEL_Y0 + r * PANEL_DY + PANEL_H / 2 - 9,
            width: 108,
            height: 18,
            lineHeight: "18px",
            textAlign: "center",
            fontSize: 14,
            color: "#1a1a1a",
            transform: "rotate(-90deg)",
            transformOrigin: "50% 50%",
          }}
        >
          {name}
        </div>
      ))}
      <div
        style={{
          ...textBase,
          left: 16 - 100,
          top: 261 - 12,
          width: 200,
          height: 24,
          lineHeight: "24px",
          textAlign: "center",
          fontSize: 19,
          color: "#000",
          transform: "rotate(-90deg)",
          transformOrigin: "50% 50%",
        }}
      >
        {Y_TITLE}
      </div>
      <div
        style={{
          ...textBase,
          left: 465,
          top: 513,
          width: 200,
          lineHeight: "20px",
          textAlign: "center",
          fontSize: 15.5,
          color: "#000",
        }}
      >
        {X_TITLE}
      </div>
      <div
        style={{
          ...textBase,
          left: 323,
          top: 539,
          height: 16,
          display: "flex",
          alignItems: "center",
        }}
      >
        <span style={{ fontSize: 16.5, color: "#000", marginRight: 3 }}>{LEGEND_TITLE}</span>
        {GENO_LABELS.map((g, i) => (
          <span key={g} style={{ display: "flex", alignItems: "center" }}>
            <span
              style={{
                display: "inline-block",
                width: 12,
                height: 12,
                boxSizing: "border-box",
                background: GENO_COLORS[i],
                border: "1px solid #3a3a3a",
                marginRight: 1,
              }}
            />
            <span style={{ fontSize: 13, color: "#000" }}>{g}</span>
          </span>
        ))}
      </div>
      {ROWS.map((_, r) =>
        COLUMNS.map((__, c) => <Panel key={`${r}-${c}`} r={r} c={c} />)
      )}
    </div>
  );
}
